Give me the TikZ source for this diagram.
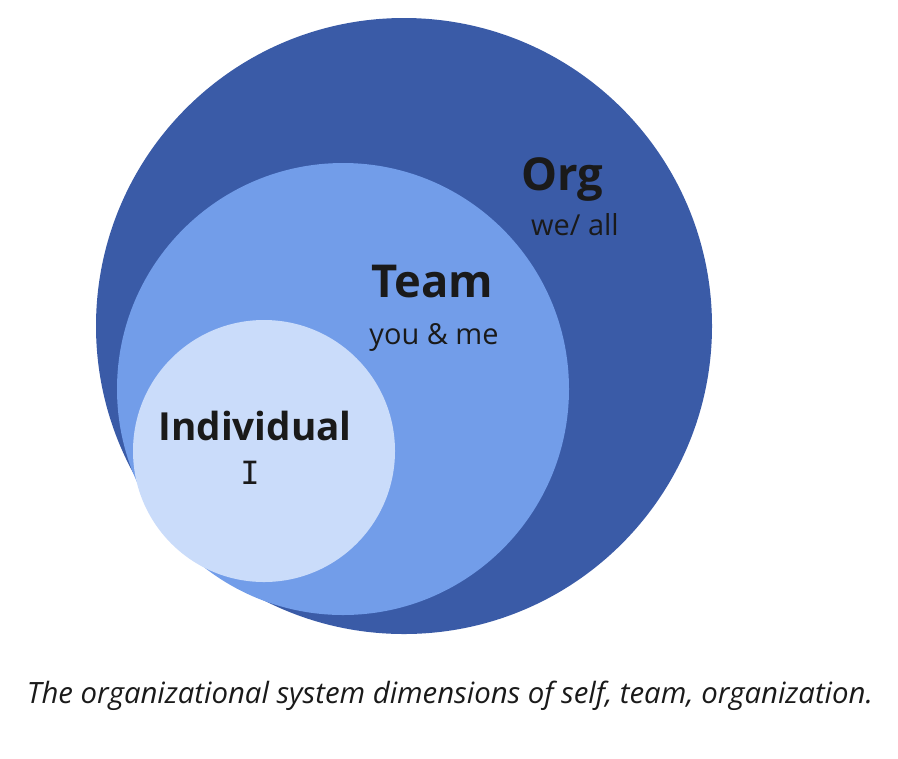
\documentclass[tikz,border=0pt]{standalone}
\usepackage{fontspec}
\setmainfont{Open Sans}
\newfontfamily\monofnt{DejaVu Sans Mono}
\usepackage{xcolor}
\usepackage{tikz}
\usetikzlibrary{positioning}

\definecolor{orgblue}{HTML}{3A5BA7}
\definecolor{teamblue}{HTML}{729DE9}
\definecolor{selfblue}{HTML}{CADCFA}
\definecolor{ink}{HTML}{1A1A1A}

\begin{document}
\begin{tikzpicture}[
  x=0.75pt, y=-0.75pt,
  ring/.style={circle,inner sep=0pt,draw=none},
  head/.style={anchor=base,text=ink,font=\fontsize{34}{36}\selectfont\bfseries},
  sub/.style={anchor=base,text=ink,font=\fontsize{21.7}{24}\selectfont},
]
\useasboundingbox (0,0) rectangle (898,758);

% nested circles
\node[ring, fill=orgblue,  minimum size=462pt]   (org)  at (404,326) {};
\node[ring, fill=teamblue, minimum size=339pt]   (team) at (343,389) {};
\node[ring, fill=selfblue, minimum size=196.5pt] (self) at (264,451) {};

% labels
\node[head] (orgname) at (562,190) {Org};
\node[sub]  (orgsub)  at (575,235) {we/ all};
\node[head] (teamname) at (432,297) {Team};
\node[sub]  (teamsub)  at (434,344) {you \& me};
\node[head, font=\fontsize{29}{30}\selectfont\bfseries] (selfname) at (255,440) {Individual};
\node[sub, font=\fontsize{24}{26}\selectfont\monofnt] (selfsub) at (250,484) {I};

% caption
\node[anchor=base,text=ink,font=\fontsize{22}{26}\selectfont\itshape] (cap) at (450,703)
  {The organizational system dimensions of self, team, organization.};
\end{tikzpicture}
\end{document}
